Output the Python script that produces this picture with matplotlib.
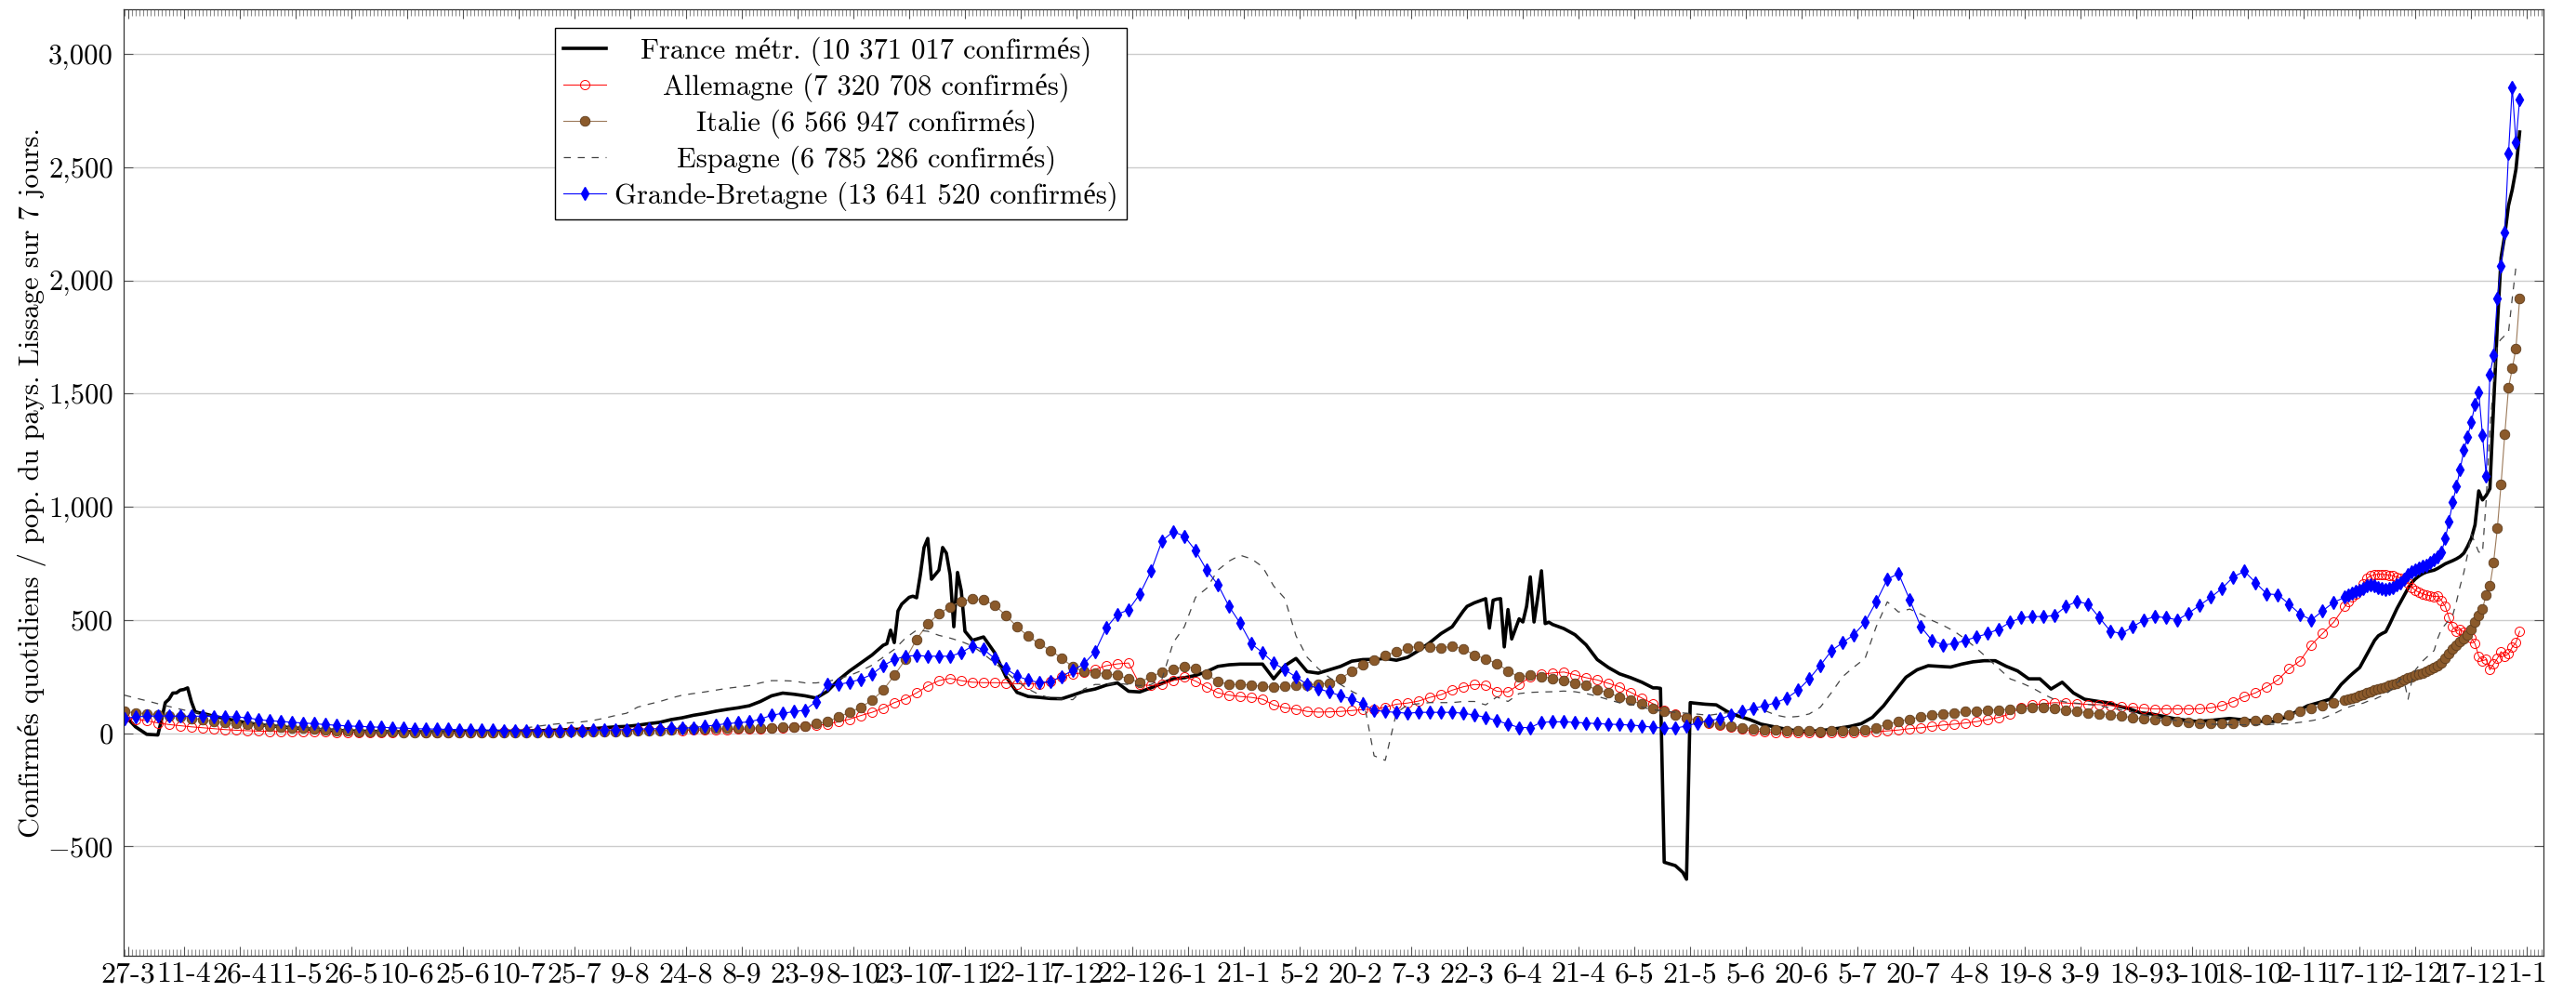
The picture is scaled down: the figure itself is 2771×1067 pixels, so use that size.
import matplotlib
matplotlib.use('Agg')
import matplotlib.pyplot as plt
import matplotlib.dates as mdates
from matplotlib.ticker import FixedLocator, FuncFormatter
import numpy as np
import pandas as pd

plt.rcParams['font.family'] = ['cmr10', 'Liberation Serif']
plt.rcParams['mathtext.fontset'] = 'cm'
plt.rcParams['axes.unicode_minus'] = False

start = np.datetime64('2020-03-27')

# jours de lecture (décalage depuis le 27-3-2020)
days = list(range(-1, 597, 3)) + list(range(597, 644))
days_fr = ([-1, 2, 5] + list(range(8, 21)) + list(range(23, 204, 3)) + list(range(204, 228))
           + list(range(230, 360, 3)) + list(range(360, 384)) + list(range(386, 410, 3))
           + list(range(410, 422)) + list(range(424, 597, 3)) + list(range(597, 644)))

france = [80, 28, -5,
          -8, 60, 135, 150, 177, 178, 190, 193, 200, 140, 95, 90, 88,
          75, 65, 55, 45, 38, 33, 28, 24, 20, 17,
          14, 12, 10, 9, 8, 7, 6, 6, 6, 6,
          6, 6, 7, 7, 8, 8, 9, 9, 10, 11,
          12, 14, 16, 18, 20, 24, 28, 30, 35, 42,
          48, 60, 68, 79, 87, 97, 105, 112, 121, 140,
          165, 177, 172, 165, 155, 185, 235, 275, 310, 345,
          388,
          395, 455, 400, 540, 570, 585, 600, 605, 598, 700, 820, 860,
          680, 700, 720, 820, 795, 700, 470, 710, 630, 450, 430, 410,
          425, 355, 250, 180, 162, 158, 153, 152, 168, 185,
          195, 212, 222, 185, 182, 200, 220, 240, 245, 255,
          272, 295, 302, 305, 305, 305, 240, 298, 330, 272,
          265, 280, 295, 318, 325, 326, 330, 322, 335, 365,
          400, 440, 470, 540,
          560, 568, 576, 582, 588, 594, 464, 587, 592, 594, 381, 546,
          416, 460, 505, 491, 560, 690, 491, 600, 717, 484, 490, 480,
          462, 435, 390, 325, 290, 262, 245, 225,
          200, 200, 198, -570, -575, -580, -585, -600, -615, -645, 135, 133,
          128, 125, 95, 75, 60, 40, 30, 20, 12, 8,
          10, 15, 22, 30, 42, 70, 121, 185, 247, 280,
          298, 295, 292, 305, 315, 320, 320, 295, 275, 240,
          240, 195, 225, 178, 150, 142, 135, 120, 108, 90,
          85, 75, 65, 58, 52, 55, 60, 65, 60, 55,
          52, 52, 70, 95, 121, 135, 150, 215,
          247, 262, 276, 290, 320, 350, 380, 410, 430, 440,
          448, 480, 515, 550, 580, 610, 640, 665, 682, 695,
          705, 712, 716, 720, 728, 738, 748, 755, 762, 770,
          780, 795, 825, 860, 920, 1070, 1030, 1050, 1080, 1450,
          1800, 2100, 2200, 2330, 2400, 2490, 2655]

germany = [70, 62, 55, 45, 38, 33, 28, 24, 20, 16,
           13, 11, 9, 8, 7, 6, 6, 5, 5, 4,
           4, 4, 4, 4, 4, 5, 5, 4, 4, 4,
           4, 4, 4, 4, 5, 5, 6, 6, 7, 8,
           9, 10, 11, 12, 12, 12, 13, 13, 13, 13,
           12, 13, 14, 15, 16, 17, 18, 20, 22, 24,
           26, 30, 34, 40, 50, 62, 78, 92, 110, 135,
           152, 178, 209, 232, 242, 232, 225, 223, 223, 222,
           218, 217, 218, 228, 248, 260, 268, 282, 298, 306,
           310, 215, 210, 216, 232, 250, 230, 203, 178, 168,
           162, 158, 150, 125, 112, 106, 96, 93, 94, 96,
           100, 104, 107, 115, 128, 133, 142, 158, 170, 190,
           205, 215, 212, 185, 182, 215, 248, 260, 266, 270,
           258, 245, 235, 220, 205, 180, 155, 130, 100, 85,
           68, 55, 45, 37, 28, 18, 10, 6, 4, 2,
           1, 1, 1, 2, 3, 4, 5, 7, 10, 14,
           20, 24, 30, 36, 40, 45, 51, 60, 70, 85,
           115, 125, 130, 135, 133, 130, 127, 126, 122, 118,
           115, 110, 107, 107, 107, 107, 108, 112, 122, 140,
           162, 178, 205, 235, 285, 320, 390, 440, 490, 560,
           580, 600, 615, 630, 660, 685, 695, 700, 702, 702,
           700, 698, 695, 690, 686, 678, 665, 645, 630, 622,
           615, 610, 607, 604, 605, 585, 560, 510, 470, 450,
           460, 445, 440, 420, 395, 340, 320, 325, 280, 305,
           330, 360, 340, 350, 380, 400, 450]

italy = [95, 90, 86, 82, 77, 72, 66, 60, 52, 46,
         42, 38, 35, 30, 27, 24, 21, 18, 15, 12,
         10, 8, 7, 6, 5, 4, 4, 4, 3, 3,
         3, 3, 3, 3, 3, 3, 3, 3, 4, 4,
         5, 6, 6, 7, 8, 8, 9, 10, 12, 14,
         17, 19, 20, 21, 22, 22, 23, 24, 25, 26,
         28, 33, 42, 50, 72, 92, 115, 145, 190, 255,
         325, 415, 482, 528, 558, 582, 593, 588, 565, 520,
         470, 428, 395, 365, 332, 292, 272, 267, 262, 256,
         240, 225, 250, 270, 280, 295, 285, 260, 228, 215,
         215, 212, 206, 203, 206, 210, 213, 217, 220, 240,
         275, 302, 322, 345, 358, 375, 385, 382, 375, 385,
         372, 345, 328, 308, 275, 248, 255, 250, 242, 232,
         222, 210, 192, 178, 160, 145, 128, 110, 95, 82,
         68, 56, 46, 38, 32, 24, 20, 16, 14, 12,
         10, 9, 8, 9, 10, 12, 15, 25, 40, 52,
         62, 72, 80, 86, 90, 95, 98, 100, 103, 105,
         108, 112, 114, 110, 100, 95, 90, 85, 82, 76,
         68, 63, 58, 54, 51, 48, 45, 43, 42, 45,
         50, 55, 62, 70, 82, 95, 110, 122, 135, 148,
         152, 156, 160, 165, 170, 178, 185, 190, 196, 200,
         205, 210, 215, 222, 230, 238, 244, 250, 256, 260,
         265, 272, 280, 290, 300, 312, 330, 352, 372, 390,
         405, 418, 435, 460, 490, 520, 550, 610, 650, 755,
         905, 1100, 1320, 1525, 1610, 1700, 1920]

spain = [168, 155, 143, 130, 118, 106, 95, 86, 76, 66,
         57, 50, 44, 38, 33, 29, 26, 23, 20, 17,
         15, 12, 10, 9, 8, 7, 6, 6, 6, 6,
         6, 7, 8, 10, 13, 18, 24, 30, 37, 42,
         46, 50, 56, 66, 78, 88, 115, 128, 140, 155,
         168, 175, 182, 190, 198, 204, 210, 222, 232, 232,
         230, 222, 222, 228, 240, 255, 275, 300, 335, 370,
         420, 455, 450, 432, 420, 405, 385, 350, 310, 270,
         230, 195, 170, 155, 150, 148, 195, 215, 215, 220,
         215, 210, 215, 240, 400, 470, 600, 640, 720, 760,
         786, 770, 735, 650, 595, 430, 335, 285, 245, 215,
         185, 160, -100, -120, 90, 125, 130, 135, 135, 135,
         140, 140, 125, 160, 140, 175, 180, 182, 183, 186,
         183, 175, 163, 148, 134, 128, 115, 103, 98, 92,
         88, 84, 79, 86, 93, 98, 105, 100, 80, 70,
         74, 85, 115, 180, 250, 292, 330, 470, 580, 535,
         548, 525, 498, 476, 450, 415, 374, 330, 285, 240,
         222, 200, 172, 148, 137, 132, 127, 121, 112, 102,
         93, 80, 70, 62, 55, 48, 42, 40, 38, 37,
         37, 37, 38, 40, 42, 48, 55, 65, 85, 110,
         115, 121, 125, 128, 133, 140, 145, 150, 158, 165,
         175, 185, 200, 220, 240, 225, 150, 230, 280, 300,
         320, 335, 350, 365, 420, 460, 480, 500, 520, 580,
         650, 710, 790, 880, 840, 800, 795, 1030, 1350, 1550,
         1720, 1740, 1756, 1770, 1920, 2059, 2059]

uk = [65, 72, 75, 76, 76, 75, 75, 75, 74, 73,
      72, 68, 60, 55, 52, 48, 45, 42, 38, 35,
      32, 30, 28, 26, 24, 22, 20, 19, 18, 17,
      16, 15, 14, 13, 12, 12, 11, 11, 11, 12,
      12, 12, 13, 14, 15, 16, 18, 19, 20, 21,
      22, 25, 30, 36, 42, 46, 50, 62, 79, 88,
      95, 102, 140, 215, 215, 225, 238, 260, 298, 325,
      340, 343, 340, 340, 340, 355, 385, 370, 330, 285,
      252, 235, 223, 228, 250, 278, 306, 360, 465, 525,
      545, 614, 715, 850, 890, 870, 806, 720, 656, 560,
      485, 395, 356, 310, 280, 248, 215, 196, 182, 165,
      150, 128, 102, 95, 92, 88, 92, 92, 92, 92,
      88, 80, 70, 55, 40, 25, 25, 48, 50, 50,
      48, 45, 42, 40, 38, 36, 32, 26, 22, 22,
      32, 45, 55, 63, 80, 95, 110, 120, 135, 155,
      190, 240, 300, 365, 400, 435, 490, 580, 680, 705,
      590, 470, 410, 390, 395, 410, 425, 440, 460, 490,
      510, 515, 515, 520, 560, 582, 570, 510, 450, 440,
      470, 500, 515, 510, 500, 530, 565, 600, 640, 690,
      715, 665, 615, 612, 570, 525, 500, 540, 578, 600,
      610, 620, 625, 630, 640, 650, 655, 650, 645, 640,
      635, 638, 645, 655, 665, 680, 700, 712, 722, 730,
      738, 743, 752, 765, 778, 800, 860, 935, 1020, 1090,
      1165, 1250, 1310, 1375, 1450, 1507, 1318, 1137, 1585, 1669,
      1922, 2063, 2210, 2560, 2852, 2610, 2800]

labels = ['France métr. (10 371 017 confirmés)',
          'Allemagne (7 320 708 confirmés)',
          'Italie (6 566 947 confirmés)',
          'Espagne (6 785 286 confirmés)',
          'Grande-Bretagne (13 641 520 confirmés)']

x = start + np.array(days).astype('timedelta64[D]')
x_fr = start + np.array(days_fr).astype('timedelta64[D]')

fig = plt.figure(figsize=(27.71, 10.67), dpi=100)
ax = fig.add_axes([133 / 2771, 1 - 1028 / 1067, (2736 - 133) / 2771, (1028 - 10) / 1067])

ax.plot(x_fr, france, color='black', lw=2.6, label=labels[0])
ax.plot(x, germany, color='red', lw=0.7, marker='o', ms=7.2, mfc='none', mec='red', mew=0.7,
        label=labels[1])
ax.plot(x, italy, color='#9c7a5a', lw=0.8, marker='o', ms=7.6, mfc='#8b5a2b', mec='#5e3c1c', mew=0.6,
        label=labels[2])
ax.plot(x, spain, color='#444444', lw=0.9, ls=(0, (6, 6)), label=labels[3])
ax.plot(x, uk, color='blue', lw=0.8, marker='d', ms=7.5, mfc='blue', mec='blue', label=labels[4])

x0 = mdates.date2num(start)
ax.set_xlim(x0 - 1.2, x0 + 649.4)
ax.set_ylim(-983, 3197)

tick_days = np.arange(0, 646, 15)
tick_dates = pd.to_datetime(start + tick_days.astype('timedelta64[D]'))
ax.xaxis.set_major_locator(FixedLocator(x0 + tick_days))
ax.set_xticklabels([f'{d.day}-{d.month}' for d in tick_dates])
ax.xaxis.set_minor_locator(mdates.DayLocator())

ax.yaxis.set_major_locator(FixedLocator(np.arange(-500, 3001, 500)))


def fmt(v, pos):
    if v < 0:
        return r'$-%s$' % f'{-v:,.0f}'
    return f'{v:,.0f}'


ax.yaxis.set_major_formatter(FuncFormatter(fmt))

ax.yaxis.grid(True, color='#cccccc', lw=1.0)
ax.set_axisbelow(True)
for sp in ax.spines.values():
    sp.set_linewidth(0.9)
    sp.set_color('#333333')

ax.tick_params(axis='x', which='minor', direction='in', length=5, width=0.8, color='#8c8c8c',
               top=True, bottom=True)
ax.tick_params(axis='x', which='major', direction='in', length=7, width=0.8, color='#555555',
               top=True, labelsize=23, pad=5)
ax.tick_params(axis='y', which='major', direction='in', length=7, width=0.8, color='#555555',
               right=True, labelsize=22, pad=8)

ax.set_ylabel('Confirmés quotidiens / pop. du pays. Lissage sur 7 jours.', fontsize=22)
ax.yaxis.set_label_coords(-0.032, 0.5)

leg = ax.legend(loc='upper left', bbox_to_anchor=(597 / 2771, 1 - 30 / 1067),
                bbox_transform=fig.transFigure, borderaxespad=0, fancybox=False,
                edgecolor='black', framealpha=1, fontsize=22, handlelength=1.5,
                handletextpad=0.3, labelspacing=0.25, borderpad=0.3)
leg.get_frame().set_linewidth(1.0)

# centrer les textes de la légende
fig.canvas.draw()
r = fig.canvas.get_renderer()
ws = [t.get_window_extent(r).width for t in leg.get_texts()]
wmax = max(ws)
for t, w in zip(leg.get_texts(), ws):
    t.set_position(((wmax - w) / 2, 0))

fig.savefig('out.png', dpi=100)
